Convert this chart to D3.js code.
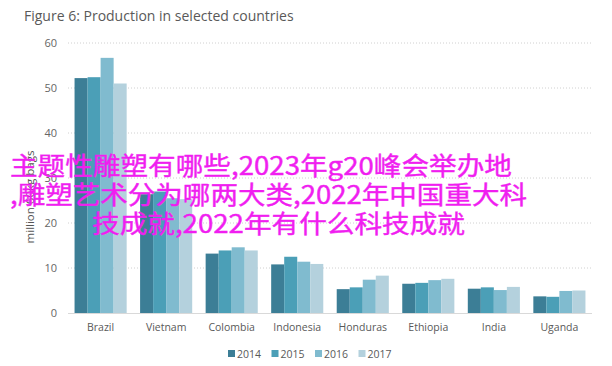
<!DOCTYPE html>
<html><head><meta charset="utf-8">
<script src="https://cdn.jsdelivr.net/npm/d3@7"></script>
<style>body{margin:0;background:#fff}svg{display:block}</style>
</head><body>
<script>
const categories = ["Brazil","Vietnam","Colombia","Indonesia","Honduras","Ethiopia","India","Uganda"];
const years = ["2014","2015","2016","2017"];
const v2014 = [52.2, 26.4, 13.2, 10.8, 5.3, 6.5, 5.4, 3.7];
const v2015 = [52.4, 27.0, 13.9, 12.5, 5.7, 6.7, 5.7, 3.6];
const v2016 = [56.7, 25.5, 14.6, 11.4, 7.4, 7.3, 5.1, 4.9];
const v2017 = [51.0, 25.3, 13.9, 10.9, 8.3, 7.6, 5.8, 5.0];
const yTicks = [0,10,20,30,40,50,60];
const overlayLines = ["主题性雕塑有哪些,2023年g20峰会举办地", ",雕塑艺术分为哪两大类,2022年中国重大科", "技成就,2022年有什么科技成就"];

const series = [v2014, v2015, v2016, v2017];
const colors = ["#3c7e96", "#4b9fb7", "#80bbcf", "#b4d1dd"];
const W = 612, H = 366;
const svg = d3.select("body").append("svg").attr("width", W).attr("height", H);
const font = "'Open Sans', 'Liberation Sans', sans-serif";

const x0 = d3.scaleBand().domain(categories).range([68, 592]).paddingInner(0.205).paddingOuter(0.1);
const x1 = d3.scaleBand().domain(years).range([0, x0.bandwidth()]);
const y = d3.scaleLinear().domain([0, 60]).range([313, 43]);

svg.append("text").attr("x", 24).attr("y", 21).attr("font-family", font).attr("font-size", 14)
  .attr("fill", "#595959").text("Figure 6: Production in selected countries");

// gridlines
svg.append("g").selectAll("line").data(yTicks.filter(d => d > 0)).join("line")
  .attr("x1", 68).attr("x2", 592).attr("y1", d => y(d)).attr("y2", d => y(d))
  .attr("stroke", "#d0d0d0").attr("stroke-width", 1).attr("stroke-dasharray", "1,2");

// y axis labels
const yAxis = d3.axisLeft(y).tickValues(yTicks).tickSize(0).tickPadding(10);
const ya = svg.append("g").attr("transform", "translate(67,0)").call(yAxis);
ya.select(".domain").remove();
ya.selectAll("text").attr("font-family", font).attr("font-size", 11).attr("fill", "#666");

svg.append("text").attr("transform", "translate(34,197) rotate(-90)").attr("text-anchor", "middle")
  .attr("font-family", font).attr("font-size", 11.5).attr("fill", "#555").text("million 60kg bags");

// bars
const g = svg.append("g");
categories.forEach((c, i) => {
  series.forEach((s, j) => {
    g.append("rect").attr("x", x0(c) + x1(years[j])).attr("y", y(s[i]))
      .attr("width", x1.bandwidth()).attr("height", y(0) - y(s[i])).attr("fill", colors[j]);
  });
});

// x axis
svg.append("line").attr("x1", 68).attr("x2", 592).attr("y1", 313.5).attr("y2", 313.5).attr("stroke", "#d9d9d9");
const xAxis = d3.axisBottom(x0).tickSize(0).tickPadding(11);
const xa = svg.append("g").attr("transform", "translate(0,313)").call(xAxis);
xa.select(".domain").remove();
xa.selectAll("text").attr("font-family", font).attr("font-size", 10.5).attr("fill", "#595959");

// legend
const lg = svg.append("g");
years.forEach((yr, j) => {
  const lx = 228 + j * 43.5;
  lg.append("rect").attr("x", lx).attr("y", 350).attr("width", 7).attr("height", 7).attr("fill", colors[j]);
  lg.append("text").attr("x", lx + 9).attr("y", 357.5).attr("font-family", font).attr("font-size", 10.5)
    .attr("fill", "#595959").text(yr);
});

// overlay text
const ov = [{x: 10, y: 175, w: 502}, {x: 10, y: 204, w: 517}, {x: 92, y: 233, w: 373}];
overlayLines.forEach((t, i) => {
  svg.append("text").attr("x", ov[i].x).attr("y", ov[i].y)
    .attr("font-family", "'Noto Sans CJK SC', sans-serif").attr("font-size", 25)
    .attr("fill", "#f01ef0").attr("stroke", "#f01ef0").attr("stroke-width", 0.4)
    .attr("textLength", ov[i].w).attr("lengthAdjust", "spacingAndGlyphs").text(t);
});
</script>
</body></html>
